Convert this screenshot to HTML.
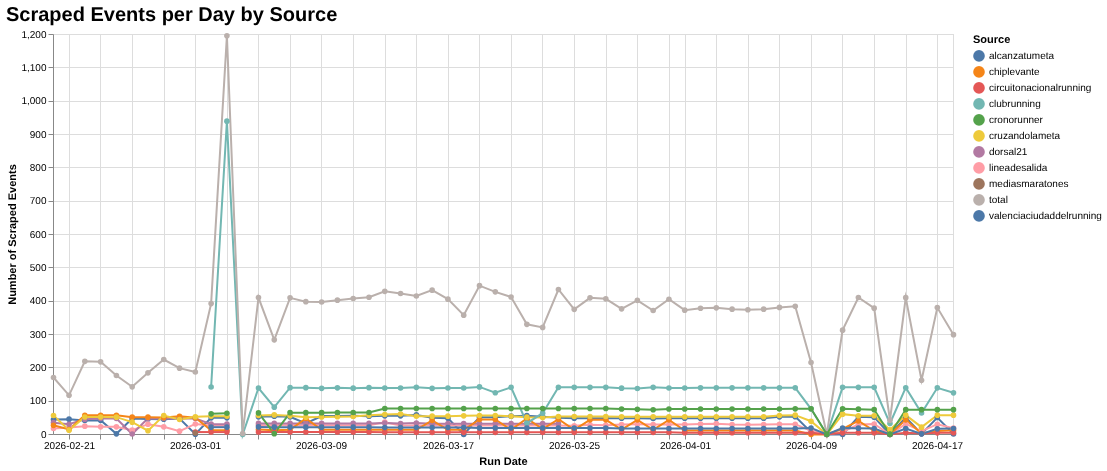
<!DOCTYPE html>
<html lang="en"><head><meta charset="utf-8"><title>Scraped Events per Day by Source</title>
<style>html,body{margin:0;padding:0;background:#fff}svg{display:block}</style></head>
<body>
<svg width="1107" height="471" viewBox="0 0 1107 471" style="display:block;background:#fff" text-rendering="geometricPrecision">
<rect width="1107" height="471" fill="#fff"/>
<path d="M69.5 34.5V434.5M100.5 34.5V434.5M132.5 34.5V434.5M164.5 34.5V434.5M195.5 34.5V434.5M227.5 34.5V434.5M258.5 34.5V434.5M290.5 34.5V434.5M321.5 34.5V434.5M353.5 34.5V434.5M385.5 34.5V434.5M416.5 34.5V434.5M448.5 34.5V434.5M479.5 34.5V434.5M511.5 34.5V434.5M542.5 34.5V434.5M574.5 34.5V434.5M606.5 34.5V434.5M637.5 34.5V434.5M669.5 34.5V434.5M685.5 34.5V434.5M716.5 34.5V434.5M748.5 34.5V434.5M779.5 34.5V434.5M811.5 34.5V434.5M842.5 34.5V434.5M874.5 34.5V434.5M906.5 34.5V434.5M937.5 34.5V434.5M53.5 434.5H953.5M53.5 401.5H953.5M53.5 367.5H953.5M53.5 334.5H953.5M53.5 301.5H953.5M53.5 267.5H953.5M53.5 234.5H953.5M53.5 201.5H953.5M53.5 167.5H953.5M53.5 134.5H953.5M53.5 101.5H953.5M53.5 67.5H953.5M53.5 34.5H953.5" stroke="#ddd" stroke-width="1" fill="none"/>
<rect x="53.5" y="34.5" width="900" height="400" fill="none" stroke="#ddd" stroke-width="1"/>
<path d="M69.5 434.5v5M100.5 434.5v5M132.5 434.5v5M164.5 434.5v5M195.5 434.5v5M227.5 434.5v5M258.5 434.5v5M290.5 434.5v5M321.5 434.5v5M353.5 434.5v5M385.5 434.5v5M416.5 434.5v5M448.5 434.5v5M479.5 434.5v5M511.5 434.5v5M542.5 434.5v5M574.5 434.5v5M606.5 434.5v5M637.5 434.5v5M669.5 434.5v5M685.5 434.5v5M716.5 434.5v5M748.5 434.5v5M779.5 434.5v5M811.5 434.5v5M842.5 434.5v5M874.5 434.5v5M906.5 434.5v5M937.5 434.5v5M53.5 434.5h-5M53.5 401.5h-5M53.5 367.5h-5M53.5 334.5h-5M53.5 301.5h-5M53.5 267.5h-5M53.5 234.5h-5M53.5 201.5h-5M53.5 167.5h-5M53.5 134.5h-5M53.5 101.5h-5M53.5 67.5h-5M53.5 34.5h-5" stroke="#888" stroke-width="1" fill="none"/>
<path d="M53.5 434.5H953.5M53.5 34.5V434.5" stroke="#888" stroke-width="1" fill="none"/>
<g font-family="'Liberation Sans', Arial, Helvetica, sans-serif" font-size="10" fill="#000">
<text x="69.5" y="449.4" text-anchor="middle">2026-02-21</text>
<text x="195.5" y="449.4" text-anchor="middle">2026-03-01</text>
<text x="321.5" y="449.4" text-anchor="middle">2026-03-09</text>
<text x="448.5" y="449.4" text-anchor="middle">2026-03-17</text>
<text x="574.5" y="449.4" text-anchor="middle">2026-03-25</text>
<text x="685.5" y="449.4" text-anchor="middle">2026-04-01</text>
<text x="811.5" y="449.4" text-anchor="middle">2026-04-09</text>
<text x="937.5" y="449.4" text-anchor="middle">2026-04-17</text>
<text x="46.5" y="437.5" text-anchor="end">0</text>
<text x="46.5" y="404.2" text-anchor="end">100</text>
<text x="46.5" y="370.8" text-anchor="end">200</text>
<text x="46.5" y="337.5" text-anchor="end">300</text>
<text x="46.5" y="304.2" text-anchor="end">400</text>
<text x="46.5" y="270.8" text-anchor="end">500</text>
<text x="46.5" y="237.5" text-anchor="end">600</text>
<text x="46.5" y="204.2" text-anchor="end">700</text>
<text x="46.5" y="170.8" text-anchor="end">800</text>
<text x="46.5" y="137.5" text-anchor="end">900</text>
<text x="46.5" y="104.2" text-anchor="end">1,000</text>
<text x="46.5" y="70.8" text-anchor="end">1,100</text>
<text x="46.5" y="37.5" text-anchor="end">1,200</text>
</g>
<g font-family="'Liberation Sans', Arial, Helvetica, sans-serif" font-size="11" font-weight="bold" fill="#000">
<text x="503.5" y="464.6" text-anchor="middle">Run Date</text>
<text transform="translate(16,234.5) rotate(-90)" text-anchor="middle">Number of Scraped Events</text>
<text x="973" y="42.7">Source</text>
</g>
<text x="6" y="20.7" font-family="'Liberation Sans', Arial, Helvetica, sans-serif" font-size="20" font-weight="bold" fill="#000">Scraped Events per Day by Source</text>
<path d="M53.50 419.50L69.04 419.17L84.82 420.50L100.61 420.33L116.40 433.83L132.19 418.50L147.97 418.97L163.76 419.17L179.55 418.50L195.33 434.17L211.12 417.83L226.91 417.83" stroke="#4c78a8" stroke-width="2" fill="none" stroke-miterlimit="10"/>
<path d="M258.48 416.83L274.27 416.17L290.06 416.83L305.84 423.50L321.63 416.00L337.42 416.00L353.20 415.83L368.99 416.17L384.78 415.83L400.56 415.83L416.35 414.90L432.14 417.83L447.93 418.17L463.71 434.50L479.50 417.17L495.29 417.17L511.07 416.17L526.86 415.67L542.65 416.83L558.43 417.83L574.22 418.17L590.01 418.17L605.80 418.17L621.58 418.17L637.37 418.17L653.16 418.50L668.94 418.17L684.73 418.17L700.52 418.17L716.30 418.17L732.09 418.17L747.88 418.17L763.67 418.17L779.45 416.83L795.24 416.63L811.03 432.17L826.81 434.50L842.60 434.50L858.39 416.83L874.17 417.17L889.96 434.50L905.75 417.57L921.54 433.83L937.32 417.57L953.50 434.00" stroke="#4c78a8" stroke-width="2" fill="none" stroke-miterlimit="10"/>
<path d="M53.50 428.50L69.04 427.50L84.82 426.17L100.61 426.83L116.40 426.83L132.19 430.17L147.97 424.17L163.76 426.83L179.55 431.17L195.33 423.93L211.12 425.50L226.91 425.50" stroke="#ff9da6" stroke-width="2" fill="none" stroke-miterlimit="10"/>
<path d="M258.48 425.30L274.27 425.30L290.06 425.30L305.84 425.30L321.63 425.30L337.42 425.30L353.20 425.30L368.99 425.30L384.78 422.17L400.56 425.50L416.35 425.50L432.14 425.50L447.93 425.50L463.71 425.50L479.50 425.50L495.29 425.50L511.07 425.50L526.86 425.50L542.65 425.50L558.43 425.50L574.22 425.83L590.01 424.83L605.80 425.17L621.58 424.50L637.37 424.33L653.16 424.50L668.94 424.50L684.73 424.50L700.52 423.93L716.30 423.67L732.09 424.50L747.88 424.83L763.67 424.50L779.45 424.20L795.24 424.20L811.03 430.83L826.81 434.50L842.60 431.83L858.39 424.50L874.17 423.93L889.96 434.50L905.75 423.93L921.54 431.17L937.32 424.20L953.50 428.17" stroke="#ff9da6" stroke-width="2" fill="none" stroke-miterlimit="10"/>
<path d="M53.50 422.67L69.04 424.30L84.82 419.17L100.61 418.50L116.40 418.50L132.19 434.00L147.97 418.17L163.76 418.50L179.55 418.17L195.33 418.50L211.12 424.17L226.91 424.17" stroke="#b279a2" stroke-width="2" fill="none" stroke-miterlimit="10"/>
<path d="M258.48 423.40L274.27 423.40L290.06 423.40L305.84 423.40L321.63 423.40L337.42 423.40L353.20 423.40L368.99 423.40L384.78 423.03L400.56 423.50L416.35 423.03L432.14 423.67L447.93 423.67L463.71 423.67L479.50 423.67L495.29 423.67L511.07 423.67L526.86 423.67L542.65 423.67L558.43 423.67" stroke="#b279a2" stroke-width="2" fill="none" stroke-miterlimit="10"/>
<path d="M53.50 425.33L69.04 429.50L84.82 415.33L100.61 415.33L116.40 415.33L132.19 417.17L147.97 417.17L163.76 417.60L179.55 416.27L195.33 417.83L211.12 430.27L226.91 430.27" stroke="#f58518" stroke-width="2" fill="none" stroke-miterlimit="10"/>
<path d="M258.48 429.50L274.27 430.27L290.06 429.83L305.84 418.50L321.63 429.83L337.42 429.83L353.20 429.83L368.99 429.83L384.78 429.83L400.56 429.83L416.35 429.83L432.14 420.33L447.93 429.83L463.71 429.83L479.50 419.50L495.29 419.50L511.07 429.83L526.86 418.50L542.65 429.17L558.43 419.17L574.22 429.83L590.01 419.83L605.80 419.83L621.58 429.50L637.37 419.83L653.16 429.83L668.94 419.83L684.73 430.50L700.52 430.50L716.30 430.50L732.09 430.50L747.88 430.50L763.67 430.50L779.45 430.50L795.24 430.50L811.03 434.50L826.81 434.50L842.60 428.83L858.39 420.83L874.17 430.83L889.96 434.50L905.75 419.83L921.54 433.50L937.32 430.97L953.50 430.33" stroke="#f58518" stroke-width="2" fill="none" stroke-miterlimit="10"/>
<path d="M53.50 415.50L69.04 430.17L84.82 416.97L100.61 416.97L116.40 417.17L132.19 422.17L147.97 430.70L163.76 415.50L179.55 419.50L195.33 416.70L211.12 416.27L226.91 416.27" stroke="#eeca3b" stroke-width="2" fill="none" stroke-miterlimit="10"/>
<path d="M258.48 415.50L274.27 414.90L290.06 415.83L305.84 417.17L321.63 416.97L337.42 416.70L353.20 416.50L368.99 415.33L384.78 414.50L400.56 414.00L416.35 416.27L432.14 416.17L447.93 416.17L463.71 415.83L479.50 415.50L495.29 415.50L511.07 416.27L526.86 417.17L542.65 417.60L558.43 416.50L574.22 416.50L590.01 416.50L605.80 416.50L621.58 416.70L637.37 416.70L653.16 416.70L668.94 416.70L684.73 416.70L700.52 416.70L716.30 416.70L732.09 416.70L747.88 416.70L763.67 416.70L779.45 415.50L795.24 415.17L811.03 421.23L826.81 434.50L842.60 414.17L858.39 415.73L874.17 415.73L889.96 429.83L905.75 415.17L921.54 427.17L937.32 415.17L953.50 415.17" stroke="#eeca3b" stroke-width="2" fill="none" stroke-miterlimit="10"/>
<path d="M195.33 432.07L211.12 432.07L226.91 432.07" stroke="#e45756" stroke-width="2" fill="none" stroke-miterlimit="10"/>
<path d="M258.48 432.07L274.27 432.07L290.06 432.07L305.84 432.07L321.63 432.07L337.42 432.07L353.20 432.07L368.99 432.07L384.78 432.33L400.56 432.33L416.35 432.33L432.14 432.33L447.93 432.33L463.71 432.33L479.50 432.33L495.29 432.33L511.07 432.33L526.86 432.33L542.65 432.33L558.43 432.33L574.22 432.33L590.01 432.33L605.80 432.33L621.58 432.33L637.37 432.33L653.16 432.33L668.94 432.33L684.73 432.67L700.52 432.67L716.30 432.67L732.09 432.67L747.88 432.67L763.67 432.67L779.45 432.67L795.24 432.67L811.03 432.83L826.81 434.50L842.60 432.83L858.39 432.63L874.17 432.63L889.96 434.50L905.75 432.63L921.54 433.50L937.32 432.83L953.50 432.63" stroke="#e45756" stroke-width="2" fill="none" stroke-miterlimit="10"/>
<path d="M211.12 387.00L226.91 121.17L242.69 434.50L258.48 388.00L274.27 407.17L290.06 387.67L305.84 387.67L321.63 388.33L337.42 387.83L353.20 388.17L368.99 387.67L384.78 388.00L400.56 388.00L416.35 387.33L432.14 388.33L447.93 388.00L463.71 388.00L479.50 386.90L495.29 392.70L511.07 387.33L526.86 423.17L542.65 413.17L558.43 387.33L574.22 387.33L590.01 387.33L605.80 387.33L621.58 388.17L637.37 388.50L653.16 387.33L668.94 388.00L684.73 388.00L700.52 387.83L716.30 387.83L732.09 387.83L747.88 387.83L763.67 387.83L779.45 387.83L795.24 387.83L811.03 408.83L826.81 434.50L842.60 387.33L858.39 387.33L874.17 387.33L889.96 423.50L905.75 387.70L921.54 413.00L937.32 387.83L953.50 392.83" stroke="#72b7b2" stroke-width="2" fill="none" stroke-miterlimit="10"/>
<path d="M53.50 377.50L69.04 395.30L84.82 361.33L100.61 361.83L116.40 375.50L132.19 386.83L147.97 372.83L163.76 359.50L179.55 368.17L195.33 372.00L211.12 303.60L226.91 35.83L242.69 433.50L258.48 297.60L274.27 339.83L290.06 297.83L305.84 301.63L321.63 302.00L337.42 300.17L353.20 298.50L368.99 297.30L384.78 291.33L400.56 293.50L416.35 296.00L432.14 290.17L447.93 299.17L463.71 315.17L479.50 285.67L495.29 291.83L511.07 297.03L526.86 324.33L542.65 327.40L558.43 289.50L574.22 309.33L590.01 297.83L605.80 298.83L621.58 308.83L637.37 300.33L653.16 310.50L668.94 299.27L684.73 310.17L700.52 308.30L716.30 307.83L732.09 309.17L747.88 309.73L763.67 309.17L779.45 307.40L795.24 306.33L811.03 362.50L826.81 434.50L842.60 330.17L858.39 297.50L874.17 308.17L889.96 420.17L905.75 297.63L921.54 380.30L937.32 307.60L953.50 334.67" stroke="#bab0ac" stroke-width="2" fill="none" stroke-miterlimit="10"/>
<path d="M211.12 427.17L226.91 427.17" stroke="#4c78a8" stroke-width="2" fill="none" stroke-miterlimit="10"/>
<path d="M258.48 426.90L274.27 427.17L290.06 427.17L305.84 427.17L321.63 427.17L337.42 427.17L353.20 427.17L368.99 427.17L384.78 427.50L400.56 427.50L416.35 427.50L432.14 427.50L447.93 427.50L463.71 427.50L479.50 428.00L495.29 428.00L511.07 428.00L526.86 428.00L542.65 428.00L558.43 428.00L574.22 428.00L590.01 428.00L605.80 428.00L621.58 428.50L637.37 428.50L653.16 428.50L668.94 428.50L684.73 428.50L700.52 428.50L716.30 428.50L732.09 428.50L747.88 428.50L763.67 428.50L779.45 428.50L795.24 428.50L811.03 428.07L826.81 434.50L842.60 428.07L858.39 428.17L874.17 428.50L889.96 434.50L905.75 428.50L921.54 433.83L937.32 428.83L953.50 428.50" stroke="#4c78a8" stroke-width="2" fill="none" stroke-miterlimit="10"/>
<path d="M211.12 413.83L226.91 413.27" stroke="#54a24b" stroke-width="2" fill="none" stroke-miterlimit="10"/>
<path d="M258.48 412.90L274.27 433.67L290.06 412.63L305.84 412.63L321.63 412.63L337.42 412.50L353.20 412.50L368.99 412.50L384.78 408.57L400.56 408.57L416.35 408.57L432.14 408.57L447.93 408.57L463.71 408.57L479.50 408.57L495.29 408.57L511.07 408.57L526.86 408.57L542.65 408.57L558.43 408.57L574.22 408.57L590.01 408.57L605.80 408.57L621.58 409.03L637.37 409.30L653.16 409.73L668.94 409.03L684.73 409.03L700.52 409.03L716.30 409.03L732.09 409.03L747.88 409.03L763.67 409.03L779.45 409.00L795.24 408.83L811.03 408.70L826.81 434.17L842.60 408.83L858.39 409.17L874.17 409.67L889.96 434.17L905.75 409.67L921.54 409.67L937.32 409.67L953.50 409.67" stroke="#54a24b" stroke-width="2" fill="none" stroke-miterlimit="10"/>
<circle cx="53.50" cy="419.50" r="2.8" fill="#4c78a8"/>
<circle cx="53.50" cy="428.50" r="2.8" fill="#ff9da6"/>
<circle cx="53.50" cy="422.67" r="2.8" fill="#b279a2"/>
<circle cx="53.50" cy="425.33" r="2.8" fill="#f58518"/>
<circle cx="53.50" cy="415.50" r="2.8" fill="#eeca3b"/>
<circle cx="53.50" cy="377.50" r="2.8" fill="#bab0ac"/>
<circle cx="69.04" cy="419.17" r="2.8" fill="#4c78a8"/>
<circle cx="69.04" cy="427.50" r="2.8" fill="#ff9da6"/>
<circle cx="69.04" cy="424.30" r="2.8" fill="#b279a2"/>
<circle cx="69.04" cy="429.50" r="2.8" fill="#f58518"/>
<circle cx="69.04" cy="430.17" r="2.8" fill="#eeca3b"/>
<circle cx="69.04" cy="395.30" r="2.8" fill="#bab0ac"/>
<circle cx="84.82" cy="420.50" r="2.8" fill="#4c78a8"/>
<circle cx="84.82" cy="426.17" r="2.8" fill="#ff9da6"/>
<circle cx="84.82" cy="419.17" r="2.8" fill="#b279a2"/>
<circle cx="84.82" cy="415.33" r="2.8" fill="#f58518"/>
<circle cx="84.82" cy="416.97" r="2.8" fill="#eeca3b"/>
<circle cx="84.82" cy="361.33" r="2.8" fill="#bab0ac"/>
<circle cx="100.61" cy="420.33" r="2.8" fill="#4c78a8"/>
<circle cx="100.61" cy="426.83" r="2.8" fill="#ff9da6"/>
<circle cx="100.61" cy="418.50" r="2.8" fill="#b279a2"/>
<circle cx="100.61" cy="415.33" r="2.8" fill="#f58518"/>
<circle cx="100.61" cy="416.97" r="2.8" fill="#eeca3b"/>
<circle cx="100.61" cy="361.83" r="2.8" fill="#bab0ac"/>
<circle cx="116.40" cy="433.83" r="2.8" fill="#4c78a8"/>
<circle cx="116.40" cy="426.83" r="2.8" fill="#ff9da6"/>
<circle cx="116.40" cy="418.50" r="2.8" fill="#b279a2"/>
<circle cx="116.40" cy="415.33" r="2.8" fill="#f58518"/>
<circle cx="116.40" cy="417.17" r="2.8" fill="#eeca3b"/>
<circle cx="116.40" cy="375.50" r="2.8" fill="#bab0ac"/>
<circle cx="132.19" cy="418.50" r="2.8" fill="#4c78a8"/>
<circle cx="132.19" cy="430.17" r="2.8" fill="#ff9da6"/>
<circle cx="132.19" cy="434.00" r="2.8" fill="#b279a2"/>
<circle cx="132.19" cy="417.17" r="2.8" fill="#f58518"/>
<circle cx="132.19" cy="422.17" r="2.8" fill="#eeca3b"/>
<circle cx="132.19" cy="386.83" r="2.8" fill="#bab0ac"/>
<circle cx="147.97" cy="418.97" r="2.8" fill="#4c78a8"/>
<circle cx="147.97" cy="424.17" r="2.8" fill="#ff9da6"/>
<circle cx="147.97" cy="418.17" r="2.8" fill="#b279a2"/>
<circle cx="147.97" cy="417.17" r="2.8" fill="#f58518"/>
<circle cx="147.97" cy="430.70" r="2.8" fill="#eeca3b"/>
<circle cx="147.97" cy="372.83" r="2.8" fill="#bab0ac"/>
<circle cx="163.76" cy="419.17" r="2.8" fill="#4c78a8"/>
<circle cx="163.76" cy="426.83" r="2.8" fill="#ff9da6"/>
<circle cx="163.76" cy="418.50" r="2.8" fill="#b279a2"/>
<circle cx="163.76" cy="417.60" r="2.8" fill="#f58518"/>
<circle cx="163.76" cy="415.50" r="2.8" fill="#eeca3b"/>
<circle cx="163.76" cy="359.50" r="2.8" fill="#bab0ac"/>
<circle cx="179.55" cy="418.50" r="2.8" fill="#4c78a8"/>
<circle cx="179.55" cy="431.17" r="2.8" fill="#ff9da6"/>
<circle cx="179.55" cy="418.17" r="2.8" fill="#b279a2"/>
<circle cx="179.55" cy="416.27" r="2.8" fill="#f58518"/>
<circle cx="179.55" cy="419.50" r="2.8" fill="#eeca3b"/>
<circle cx="179.55" cy="368.17" r="2.8" fill="#bab0ac"/>
<circle cx="195.33" cy="434.17" r="2.8" fill="#4c78a8"/>
<circle cx="195.33" cy="423.93" r="2.8" fill="#ff9da6"/>
<circle cx="195.33" cy="418.50" r="2.8" fill="#b279a2"/>
<circle cx="195.33" cy="417.83" r="2.8" fill="#f58518"/>
<circle cx="195.33" cy="416.70" r="2.8" fill="#eeca3b"/>
<circle cx="195.33" cy="432.07" r="2.8" fill="#e45756"/>
<circle cx="195.33" cy="432.97" r="2.8" fill="#9d755d"/>
<circle cx="195.33" cy="372.00" r="2.8" fill="#bab0ac"/>
<circle cx="211.12" cy="417.83" r="2.8" fill="#4c78a8"/>
<circle cx="211.12" cy="425.50" r="2.8" fill="#ff9da6"/>
<circle cx="211.12" cy="424.17" r="2.8" fill="#b279a2"/>
<circle cx="211.12" cy="430.27" r="2.8" fill="#f58518"/>
<circle cx="211.12" cy="416.27" r="2.8" fill="#eeca3b"/>
<circle cx="211.12" cy="432.07" r="2.8" fill="#e45756"/>
<circle cx="211.12" cy="387.00" r="2.8" fill="#72b7b2"/>
<circle cx="211.12" cy="303.60" r="2.8" fill="#bab0ac"/>
<circle cx="211.12" cy="427.17" r="2.8" fill="#4c78a8"/>
<circle cx="211.12" cy="413.83" r="2.8" fill="#54a24b"/>
<circle cx="226.91" cy="417.83" r="2.8" fill="#4c78a8"/>
<circle cx="226.91" cy="425.50" r="2.8" fill="#ff9da6"/>
<circle cx="226.91" cy="424.17" r="2.8" fill="#b279a2"/>
<circle cx="226.91" cy="430.27" r="2.8" fill="#f58518"/>
<circle cx="226.91" cy="416.27" r="2.8" fill="#eeca3b"/>
<circle cx="226.91" cy="432.07" r="2.8" fill="#e45756"/>
<circle cx="226.91" cy="121.17" r="2.8" fill="#72b7b2"/>
<circle cx="226.91" cy="35.83" r="2.8" fill="#bab0ac"/>
<circle cx="226.91" cy="427.17" r="2.8" fill="#4c78a8"/>
<circle cx="226.91" cy="413.27" r="2.8" fill="#54a24b"/>
<circle cx="242.69" cy="434.50" r="2.8" fill="#72b7b2"/>
<circle cx="242.69" cy="433.50" r="2.8" fill="#bab0ac"/>
<circle cx="258.48" cy="416.83" r="2.8" fill="#4c78a8"/>
<circle cx="258.48" cy="425.30" r="2.8" fill="#ff9da6"/>
<circle cx="258.48" cy="423.40" r="2.8" fill="#b279a2"/>
<circle cx="258.48" cy="429.50" r="2.8" fill="#f58518"/>
<circle cx="258.48" cy="415.50" r="2.8" fill="#eeca3b"/>
<circle cx="258.48" cy="432.07" r="2.8" fill="#e45756"/>
<circle cx="258.48" cy="388.00" r="2.8" fill="#72b7b2"/>
<circle cx="258.48" cy="297.60" r="2.8" fill="#bab0ac"/>
<circle cx="258.48" cy="426.90" r="2.8" fill="#4c78a8"/>
<circle cx="258.48" cy="412.90" r="2.8" fill="#54a24b"/>
<circle cx="274.27" cy="416.17" r="2.8" fill="#4c78a8"/>
<circle cx="274.27" cy="425.30" r="2.8" fill="#ff9da6"/>
<circle cx="274.27" cy="423.40" r="2.8" fill="#b279a2"/>
<circle cx="274.27" cy="430.27" r="2.8" fill="#f58518"/>
<circle cx="274.27" cy="414.90" r="2.8" fill="#eeca3b"/>
<circle cx="274.27" cy="432.07" r="2.8" fill="#e45756"/>
<circle cx="274.27" cy="407.17" r="2.8" fill="#72b7b2"/>
<circle cx="274.27" cy="339.83" r="2.8" fill="#bab0ac"/>
<circle cx="274.27" cy="427.17" r="2.8" fill="#4c78a8"/>
<circle cx="274.27" cy="433.67" r="2.8" fill="#54a24b"/>
<circle cx="290.06" cy="416.83" r="2.8" fill="#4c78a8"/>
<circle cx="290.06" cy="425.30" r="2.8" fill="#ff9da6"/>
<circle cx="290.06" cy="423.40" r="2.8" fill="#b279a2"/>
<circle cx="290.06" cy="429.83" r="2.8" fill="#f58518"/>
<circle cx="290.06" cy="415.83" r="2.8" fill="#eeca3b"/>
<circle cx="290.06" cy="432.07" r="2.8" fill="#e45756"/>
<circle cx="290.06" cy="387.67" r="2.8" fill="#72b7b2"/>
<circle cx="290.06" cy="297.83" r="2.8" fill="#bab0ac"/>
<circle cx="290.06" cy="427.17" r="2.8" fill="#4c78a8"/>
<circle cx="290.06" cy="412.63" r="2.8" fill="#54a24b"/>
<circle cx="305.84" cy="423.50" r="2.8" fill="#4c78a8"/>
<circle cx="305.84" cy="425.30" r="2.8" fill="#ff9da6"/>
<circle cx="305.84" cy="423.40" r="2.8" fill="#b279a2"/>
<circle cx="305.84" cy="418.50" r="2.8" fill="#f58518"/>
<circle cx="305.84" cy="417.17" r="2.8" fill="#eeca3b"/>
<circle cx="305.84" cy="432.07" r="2.8" fill="#e45756"/>
<circle cx="305.84" cy="387.67" r="2.8" fill="#72b7b2"/>
<circle cx="305.84" cy="301.63" r="2.8" fill="#bab0ac"/>
<circle cx="305.84" cy="427.17" r="2.8" fill="#4c78a8"/>
<circle cx="305.84" cy="412.63" r="2.8" fill="#54a24b"/>
<circle cx="321.63" cy="416.00" r="2.8" fill="#4c78a8"/>
<circle cx="321.63" cy="425.30" r="2.8" fill="#ff9da6"/>
<circle cx="321.63" cy="423.40" r="2.8" fill="#b279a2"/>
<circle cx="321.63" cy="429.83" r="2.8" fill="#f58518"/>
<circle cx="321.63" cy="416.97" r="2.8" fill="#eeca3b"/>
<circle cx="321.63" cy="432.07" r="2.8" fill="#e45756"/>
<circle cx="321.63" cy="388.33" r="2.8" fill="#72b7b2"/>
<circle cx="321.63" cy="302.00" r="2.8" fill="#bab0ac"/>
<circle cx="321.63" cy="427.17" r="2.8" fill="#4c78a8"/>
<circle cx="321.63" cy="412.63" r="2.8" fill="#54a24b"/>
<circle cx="337.42" cy="416.00" r="2.8" fill="#4c78a8"/>
<circle cx="337.42" cy="425.30" r="2.8" fill="#ff9da6"/>
<circle cx="337.42" cy="423.40" r="2.8" fill="#b279a2"/>
<circle cx="337.42" cy="429.83" r="2.8" fill="#f58518"/>
<circle cx="337.42" cy="416.70" r="2.8" fill="#eeca3b"/>
<circle cx="337.42" cy="432.07" r="2.8" fill="#e45756"/>
<circle cx="337.42" cy="387.83" r="2.8" fill="#72b7b2"/>
<circle cx="337.42" cy="300.17" r="2.8" fill="#bab0ac"/>
<circle cx="337.42" cy="427.17" r="2.8" fill="#4c78a8"/>
<circle cx="337.42" cy="412.50" r="2.8" fill="#54a24b"/>
<circle cx="353.20" cy="415.83" r="2.8" fill="#4c78a8"/>
<circle cx="353.20" cy="425.30" r="2.8" fill="#ff9da6"/>
<circle cx="353.20" cy="423.40" r="2.8" fill="#b279a2"/>
<circle cx="353.20" cy="429.83" r="2.8" fill="#f58518"/>
<circle cx="353.20" cy="416.50" r="2.8" fill="#eeca3b"/>
<circle cx="353.20" cy="432.07" r="2.8" fill="#e45756"/>
<circle cx="353.20" cy="388.17" r="2.8" fill="#72b7b2"/>
<circle cx="353.20" cy="298.50" r="2.8" fill="#bab0ac"/>
<circle cx="353.20" cy="427.17" r="2.8" fill="#4c78a8"/>
<circle cx="353.20" cy="412.50" r="2.8" fill="#54a24b"/>
<circle cx="368.99" cy="416.17" r="2.8" fill="#4c78a8"/>
<circle cx="368.99" cy="425.30" r="2.8" fill="#ff9da6"/>
<circle cx="368.99" cy="423.40" r="2.8" fill="#b279a2"/>
<circle cx="368.99" cy="429.83" r="2.8" fill="#f58518"/>
<circle cx="368.99" cy="415.33" r="2.8" fill="#eeca3b"/>
<circle cx="368.99" cy="432.07" r="2.8" fill="#e45756"/>
<circle cx="368.99" cy="387.67" r="2.8" fill="#72b7b2"/>
<circle cx="368.99" cy="297.30" r="2.8" fill="#bab0ac"/>
<circle cx="368.99" cy="427.17" r="2.8" fill="#4c78a8"/>
<circle cx="368.99" cy="412.50" r="2.8" fill="#54a24b"/>
<circle cx="384.78" cy="415.83" r="2.8" fill="#4c78a8"/>
<circle cx="384.78" cy="422.17" r="2.8" fill="#ff9da6"/>
<circle cx="384.78" cy="423.03" r="2.8" fill="#b279a2"/>
<circle cx="384.78" cy="429.83" r="2.8" fill="#f58518"/>
<circle cx="384.78" cy="414.50" r="2.8" fill="#eeca3b"/>
<circle cx="384.78" cy="432.33" r="2.8" fill="#e45756"/>
<circle cx="384.78" cy="388.00" r="2.8" fill="#72b7b2"/>
<circle cx="384.78" cy="291.33" r="2.8" fill="#bab0ac"/>
<circle cx="384.78" cy="427.50" r="2.8" fill="#4c78a8"/>
<circle cx="384.78" cy="408.57" r="2.8" fill="#54a24b"/>
<circle cx="400.56" cy="415.83" r="2.8" fill="#4c78a8"/>
<circle cx="400.56" cy="425.50" r="2.8" fill="#ff9da6"/>
<circle cx="400.56" cy="423.50" r="2.8" fill="#b279a2"/>
<circle cx="400.56" cy="429.83" r="2.8" fill="#f58518"/>
<circle cx="400.56" cy="414.00" r="2.8" fill="#eeca3b"/>
<circle cx="400.56" cy="432.33" r="2.8" fill="#e45756"/>
<circle cx="400.56" cy="388.00" r="2.8" fill="#72b7b2"/>
<circle cx="400.56" cy="293.50" r="2.8" fill="#bab0ac"/>
<circle cx="400.56" cy="427.50" r="2.8" fill="#4c78a8"/>
<circle cx="400.56" cy="408.57" r="2.8" fill="#54a24b"/>
<circle cx="416.35" cy="414.90" r="2.8" fill="#4c78a8"/>
<circle cx="416.35" cy="425.50" r="2.8" fill="#ff9da6"/>
<circle cx="416.35" cy="423.03" r="2.8" fill="#b279a2"/>
<circle cx="416.35" cy="429.83" r="2.8" fill="#f58518"/>
<circle cx="416.35" cy="416.27" r="2.8" fill="#eeca3b"/>
<circle cx="416.35" cy="432.33" r="2.8" fill="#e45756"/>
<circle cx="416.35" cy="387.33" r="2.8" fill="#72b7b2"/>
<circle cx="416.35" cy="296.00" r="2.8" fill="#bab0ac"/>
<circle cx="416.35" cy="427.50" r="2.8" fill="#4c78a8"/>
<circle cx="416.35" cy="408.57" r="2.8" fill="#54a24b"/>
<circle cx="432.14" cy="417.83" r="2.8" fill="#4c78a8"/>
<circle cx="432.14" cy="425.50" r="2.8" fill="#ff9da6"/>
<circle cx="432.14" cy="423.67" r="2.8" fill="#b279a2"/>
<circle cx="432.14" cy="420.33" r="2.8" fill="#f58518"/>
<circle cx="432.14" cy="416.17" r="2.8" fill="#eeca3b"/>
<circle cx="432.14" cy="432.33" r="2.8" fill="#e45756"/>
<circle cx="432.14" cy="388.33" r="2.8" fill="#72b7b2"/>
<circle cx="432.14" cy="290.17" r="2.8" fill="#bab0ac"/>
<circle cx="432.14" cy="427.50" r="2.8" fill="#4c78a8"/>
<circle cx="432.14" cy="408.57" r="2.8" fill="#54a24b"/>
<circle cx="447.93" cy="418.17" r="2.8" fill="#4c78a8"/>
<circle cx="447.93" cy="425.50" r="2.8" fill="#ff9da6"/>
<circle cx="447.93" cy="423.67" r="2.8" fill="#b279a2"/>
<circle cx="447.93" cy="429.83" r="2.8" fill="#f58518"/>
<circle cx="447.93" cy="416.17" r="2.8" fill="#eeca3b"/>
<circle cx="447.93" cy="432.33" r="2.8" fill="#e45756"/>
<circle cx="447.93" cy="388.00" r="2.8" fill="#72b7b2"/>
<circle cx="447.93" cy="299.17" r="2.8" fill="#bab0ac"/>
<circle cx="447.93" cy="427.50" r="2.8" fill="#4c78a8"/>
<circle cx="447.93" cy="408.57" r="2.8" fill="#54a24b"/>
<circle cx="463.71" cy="434.50" r="2.8" fill="#4c78a8"/>
<circle cx="463.71" cy="425.50" r="2.8" fill="#ff9da6"/>
<circle cx="463.71" cy="423.67" r="2.8" fill="#b279a2"/>
<circle cx="463.71" cy="429.83" r="2.8" fill="#f58518"/>
<circle cx="463.71" cy="415.83" r="2.8" fill="#eeca3b"/>
<circle cx="463.71" cy="432.33" r="2.8" fill="#e45756"/>
<circle cx="463.71" cy="388.00" r="2.8" fill="#72b7b2"/>
<circle cx="463.71" cy="315.17" r="2.8" fill="#bab0ac"/>
<circle cx="463.71" cy="427.50" r="2.8" fill="#4c78a8"/>
<circle cx="463.71" cy="408.57" r="2.8" fill="#54a24b"/>
<circle cx="479.50" cy="417.17" r="2.8" fill="#4c78a8"/>
<circle cx="479.50" cy="425.50" r="2.8" fill="#ff9da6"/>
<circle cx="479.50" cy="423.67" r="2.8" fill="#b279a2"/>
<circle cx="479.50" cy="419.50" r="2.8" fill="#f58518"/>
<circle cx="479.50" cy="415.50" r="2.8" fill="#eeca3b"/>
<circle cx="479.50" cy="432.33" r="2.8" fill="#e45756"/>
<circle cx="479.50" cy="386.90" r="2.8" fill="#72b7b2"/>
<circle cx="479.50" cy="285.67" r="2.8" fill="#bab0ac"/>
<circle cx="479.50" cy="428.00" r="2.8" fill="#4c78a8"/>
<circle cx="479.50" cy="408.57" r="2.8" fill="#54a24b"/>
<circle cx="495.29" cy="417.17" r="2.8" fill="#4c78a8"/>
<circle cx="495.29" cy="425.50" r="2.8" fill="#ff9da6"/>
<circle cx="495.29" cy="423.67" r="2.8" fill="#b279a2"/>
<circle cx="495.29" cy="419.50" r="2.8" fill="#f58518"/>
<circle cx="495.29" cy="415.50" r="2.8" fill="#eeca3b"/>
<circle cx="495.29" cy="432.33" r="2.8" fill="#e45756"/>
<circle cx="495.29" cy="392.70" r="2.8" fill="#72b7b2"/>
<circle cx="495.29" cy="291.83" r="2.8" fill="#bab0ac"/>
<circle cx="495.29" cy="428.00" r="2.8" fill="#4c78a8"/>
<circle cx="495.29" cy="408.57" r="2.8" fill="#54a24b"/>
<circle cx="511.07" cy="416.17" r="2.8" fill="#4c78a8"/>
<circle cx="511.07" cy="425.50" r="2.8" fill="#ff9da6"/>
<circle cx="511.07" cy="423.67" r="2.8" fill="#b279a2"/>
<circle cx="511.07" cy="429.83" r="2.8" fill="#f58518"/>
<circle cx="511.07" cy="416.27" r="2.8" fill="#eeca3b"/>
<circle cx="511.07" cy="432.33" r="2.8" fill="#e45756"/>
<circle cx="511.07" cy="387.33" r="2.8" fill="#72b7b2"/>
<circle cx="511.07" cy="297.03" r="2.8" fill="#bab0ac"/>
<circle cx="511.07" cy="428.00" r="2.8" fill="#4c78a8"/>
<circle cx="511.07" cy="408.57" r="2.8" fill="#54a24b"/>
<circle cx="526.86" cy="415.67" r="2.8" fill="#4c78a8"/>
<circle cx="526.86" cy="425.50" r="2.8" fill="#ff9da6"/>
<circle cx="526.86" cy="423.67" r="2.8" fill="#b279a2"/>
<circle cx="526.86" cy="418.50" r="2.8" fill="#f58518"/>
<circle cx="526.86" cy="417.17" r="2.8" fill="#eeca3b"/>
<circle cx="526.86" cy="432.33" r="2.8" fill="#e45756"/>
<circle cx="526.86" cy="423.17" r="2.8" fill="#72b7b2"/>
<circle cx="526.86" cy="324.33" r="2.8" fill="#bab0ac"/>
<circle cx="526.86" cy="428.00" r="2.8" fill="#4c78a8"/>
<circle cx="526.86" cy="408.57" r="2.8" fill="#54a24b"/>
<circle cx="542.65" cy="416.83" r="2.8" fill="#4c78a8"/>
<circle cx="542.65" cy="425.50" r="2.8" fill="#ff9da6"/>
<circle cx="542.65" cy="423.67" r="2.8" fill="#b279a2"/>
<circle cx="542.65" cy="429.17" r="2.8" fill="#f58518"/>
<circle cx="542.65" cy="417.60" r="2.8" fill="#eeca3b"/>
<circle cx="542.65" cy="432.33" r="2.8" fill="#e45756"/>
<circle cx="542.65" cy="413.17" r="2.8" fill="#72b7b2"/>
<circle cx="542.65" cy="327.40" r="2.8" fill="#bab0ac"/>
<circle cx="542.65" cy="428.00" r="2.8" fill="#4c78a8"/>
<circle cx="542.65" cy="408.57" r="2.8" fill="#54a24b"/>
<circle cx="558.43" cy="417.83" r="2.8" fill="#4c78a8"/>
<circle cx="558.43" cy="425.50" r="2.8" fill="#ff9da6"/>
<circle cx="558.43" cy="423.67" r="2.8" fill="#b279a2"/>
<circle cx="558.43" cy="419.17" r="2.8" fill="#f58518"/>
<circle cx="558.43" cy="416.50" r="2.8" fill="#eeca3b"/>
<circle cx="558.43" cy="432.33" r="2.8" fill="#e45756"/>
<circle cx="558.43" cy="387.33" r="2.8" fill="#72b7b2"/>
<circle cx="558.43" cy="289.50" r="2.8" fill="#bab0ac"/>
<circle cx="558.43" cy="428.00" r="2.8" fill="#4c78a8"/>
<circle cx="558.43" cy="408.57" r="2.8" fill="#54a24b"/>
<circle cx="574.22" cy="418.17" r="2.8" fill="#4c78a8"/>
<circle cx="574.22" cy="425.83" r="2.8" fill="#ff9da6"/>
<circle cx="574.22" cy="429.83" r="2.8" fill="#f58518"/>
<circle cx="574.22" cy="416.50" r="2.8" fill="#eeca3b"/>
<circle cx="574.22" cy="432.33" r="2.8" fill="#e45756"/>
<circle cx="574.22" cy="387.33" r="2.8" fill="#72b7b2"/>
<circle cx="574.22" cy="309.33" r="2.8" fill="#bab0ac"/>
<circle cx="574.22" cy="428.00" r="2.8" fill="#4c78a8"/>
<circle cx="574.22" cy="408.57" r="2.8" fill="#54a24b"/>
<circle cx="590.01" cy="418.17" r="2.8" fill="#4c78a8"/>
<circle cx="590.01" cy="424.83" r="2.8" fill="#ff9da6"/>
<circle cx="590.01" cy="419.83" r="2.8" fill="#f58518"/>
<circle cx="590.01" cy="416.50" r="2.8" fill="#eeca3b"/>
<circle cx="590.01" cy="432.33" r="2.8" fill="#e45756"/>
<circle cx="590.01" cy="387.33" r="2.8" fill="#72b7b2"/>
<circle cx="590.01" cy="297.83" r="2.8" fill="#bab0ac"/>
<circle cx="590.01" cy="428.00" r="2.8" fill="#4c78a8"/>
<circle cx="590.01" cy="408.57" r="2.8" fill="#54a24b"/>
<circle cx="605.80" cy="418.17" r="2.8" fill="#4c78a8"/>
<circle cx="605.80" cy="425.17" r="2.8" fill="#ff9da6"/>
<circle cx="605.80" cy="419.83" r="2.8" fill="#f58518"/>
<circle cx="605.80" cy="416.50" r="2.8" fill="#eeca3b"/>
<circle cx="605.80" cy="432.33" r="2.8" fill="#e45756"/>
<circle cx="605.80" cy="387.33" r="2.8" fill="#72b7b2"/>
<circle cx="605.80" cy="298.83" r="2.8" fill="#bab0ac"/>
<circle cx="605.80" cy="428.00" r="2.8" fill="#4c78a8"/>
<circle cx="605.80" cy="408.57" r="2.8" fill="#54a24b"/>
<circle cx="621.58" cy="418.17" r="2.8" fill="#4c78a8"/>
<circle cx="621.58" cy="424.50" r="2.8" fill="#ff9da6"/>
<circle cx="621.58" cy="429.50" r="2.8" fill="#f58518"/>
<circle cx="621.58" cy="416.70" r="2.8" fill="#eeca3b"/>
<circle cx="621.58" cy="432.33" r="2.8" fill="#e45756"/>
<circle cx="621.58" cy="388.17" r="2.8" fill="#72b7b2"/>
<circle cx="621.58" cy="308.83" r="2.8" fill="#bab0ac"/>
<circle cx="621.58" cy="428.50" r="2.8" fill="#4c78a8"/>
<circle cx="621.58" cy="409.03" r="2.8" fill="#54a24b"/>
<circle cx="637.37" cy="418.17" r="2.8" fill="#4c78a8"/>
<circle cx="637.37" cy="424.33" r="2.8" fill="#ff9da6"/>
<circle cx="637.37" cy="419.83" r="2.8" fill="#f58518"/>
<circle cx="637.37" cy="416.70" r="2.8" fill="#eeca3b"/>
<circle cx="637.37" cy="432.33" r="2.8" fill="#e45756"/>
<circle cx="637.37" cy="388.50" r="2.8" fill="#72b7b2"/>
<circle cx="637.37" cy="300.33" r="2.8" fill="#bab0ac"/>
<circle cx="637.37" cy="428.50" r="2.8" fill="#4c78a8"/>
<circle cx="637.37" cy="409.30" r="2.8" fill="#54a24b"/>
<circle cx="653.16" cy="418.50" r="2.8" fill="#4c78a8"/>
<circle cx="653.16" cy="424.50" r="2.8" fill="#ff9da6"/>
<circle cx="653.16" cy="429.83" r="2.8" fill="#f58518"/>
<circle cx="653.16" cy="416.70" r="2.8" fill="#eeca3b"/>
<circle cx="653.16" cy="432.33" r="2.8" fill="#e45756"/>
<circle cx="653.16" cy="387.33" r="2.8" fill="#72b7b2"/>
<circle cx="653.16" cy="310.50" r="2.8" fill="#bab0ac"/>
<circle cx="653.16" cy="428.50" r="2.8" fill="#4c78a8"/>
<circle cx="653.16" cy="409.73" r="2.8" fill="#54a24b"/>
<circle cx="668.94" cy="418.17" r="2.8" fill="#4c78a8"/>
<circle cx="668.94" cy="424.50" r="2.8" fill="#ff9da6"/>
<circle cx="668.94" cy="419.83" r="2.8" fill="#f58518"/>
<circle cx="668.94" cy="416.70" r="2.8" fill="#eeca3b"/>
<circle cx="668.94" cy="432.33" r="2.8" fill="#e45756"/>
<circle cx="668.94" cy="388.00" r="2.8" fill="#72b7b2"/>
<circle cx="668.94" cy="299.27" r="2.8" fill="#bab0ac"/>
<circle cx="668.94" cy="428.50" r="2.8" fill="#4c78a8"/>
<circle cx="668.94" cy="409.03" r="2.8" fill="#54a24b"/>
<circle cx="684.73" cy="418.17" r="2.8" fill="#4c78a8"/>
<circle cx="684.73" cy="424.50" r="2.8" fill="#ff9da6"/>
<circle cx="684.73" cy="430.50" r="2.8" fill="#f58518"/>
<circle cx="684.73" cy="416.70" r="2.8" fill="#eeca3b"/>
<circle cx="684.73" cy="432.67" r="2.8" fill="#e45756"/>
<circle cx="684.73" cy="388.00" r="2.8" fill="#72b7b2"/>
<circle cx="684.73" cy="310.17" r="2.8" fill="#bab0ac"/>
<circle cx="684.73" cy="428.50" r="2.8" fill="#4c78a8"/>
<circle cx="684.73" cy="409.03" r="2.8" fill="#54a24b"/>
<circle cx="700.52" cy="418.17" r="2.8" fill="#4c78a8"/>
<circle cx="700.52" cy="423.93" r="2.8" fill="#ff9da6"/>
<circle cx="700.52" cy="430.50" r="2.8" fill="#f58518"/>
<circle cx="700.52" cy="416.70" r="2.8" fill="#eeca3b"/>
<circle cx="700.52" cy="432.67" r="2.8" fill="#e45756"/>
<circle cx="700.52" cy="387.83" r="2.8" fill="#72b7b2"/>
<circle cx="700.52" cy="308.30" r="2.8" fill="#bab0ac"/>
<circle cx="700.52" cy="428.50" r="2.8" fill="#4c78a8"/>
<circle cx="700.52" cy="409.03" r="2.8" fill="#54a24b"/>
<circle cx="716.30" cy="418.17" r="2.8" fill="#4c78a8"/>
<circle cx="716.30" cy="423.67" r="2.8" fill="#ff9da6"/>
<circle cx="716.30" cy="430.50" r="2.8" fill="#f58518"/>
<circle cx="716.30" cy="416.70" r="2.8" fill="#eeca3b"/>
<circle cx="716.30" cy="432.67" r="2.8" fill="#e45756"/>
<circle cx="716.30" cy="387.83" r="2.8" fill="#72b7b2"/>
<circle cx="716.30" cy="307.83" r="2.8" fill="#bab0ac"/>
<circle cx="716.30" cy="428.50" r="2.8" fill="#4c78a8"/>
<circle cx="716.30" cy="409.03" r="2.8" fill="#54a24b"/>
<circle cx="732.09" cy="418.17" r="2.8" fill="#4c78a8"/>
<circle cx="732.09" cy="424.50" r="2.8" fill="#ff9da6"/>
<circle cx="732.09" cy="430.50" r="2.8" fill="#f58518"/>
<circle cx="732.09" cy="416.70" r="2.8" fill="#eeca3b"/>
<circle cx="732.09" cy="432.67" r="2.8" fill="#e45756"/>
<circle cx="732.09" cy="387.83" r="2.8" fill="#72b7b2"/>
<circle cx="732.09" cy="309.17" r="2.8" fill="#bab0ac"/>
<circle cx="732.09" cy="428.50" r="2.8" fill="#4c78a8"/>
<circle cx="732.09" cy="409.03" r="2.8" fill="#54a24b"/>
<circle cx="747.88" cy="418.17" r="2.8" fill="#4c78a8"/>
<circle cx="747.88" cy="424.83" r="2.8" fill="#ff9da6"/>
<circle cx="747.88" cy="430.50" r="2.8" fill="#f58518"/>
<circle cx="747.88" cy="416.70" r="2.8" fill="#eeca3b"/>
<circle cx="747.88" cy="432.67" r="2.8" fill="#e45756"/>
<circle cx="747.88" cy="387.83" r="2.8" fill="#72b7b2"/>
<circle cx="747.88" cy="309.73" r="2.8" fill="#bab0ac"/>
<circle cx="747.88" cy="428.50" r="2.8" fill="#4c78a8"/>
<circle cx="747.88" cy="409.03" r="2.8" fill="#54a24b"/>
<circle cx="763.67" cy="418.17" r="2.8" fill="#4c78a8"/>
<circle cx="763.67" cy="424.50" r="2.8" fill="#ff9da6"/>
<circle cx="763.67" cy="430.50" r="2.8" fill="#f58518"/>
<circle cx="763.67" cy="416.70" r="2.8" fill="#eeca3b"/>
<circle cx="763.67" cy="432.67" r="2.8" fill="#e45756"/>
<circle cx="763.67" cy="387.83" r="2.8" fill="#72b7b2"/>
<circle cx="763.67" cy="309.17" r="2.8" fill="#bab0ac"/>
<circle cx="763.67" cy="428.50" r="2.8" fill="#4c78a8"/>
<circle cx="763.67" cy="409.03" r="2.8" fill="#54a24b"/>
<circle cx="779.45" cy="416.83" r="2.8" fill="#4c78a8"/>
<circle cx="779.45" cy="424.20" r="2.8" fill="#ff9da6"/>
<circle cx="779.45" cy="430.50" r="2.8" fill="#f58518"/>
<circle cx="779.45" cy="415.50" r="2.8" fill="#eeca3b"/>
<circle cx="779.45" cy="432.67" r="2.8" fill="#e45756"/>
<circle cx="779.45" cy="387.83" r="2.8" fill="#72b7b2"/>
<circle cx="779.45" cy="307.40" r="2.8" fill="#bab0ac"/>
<circle cx="779.45" cy="428.50" r="2.8" fill="#4c78a8"/>
<circle cx="779.45" cy="409.00" r="2.8" fill="#54a24b"/>
<circle cx="795.24" cy="416.63" r="2.8" fill="#4c78a8"/>
<circle cx="795.24" cy="424.20" r="2.8" fill="#ff9da6"/>
<circle cx="795.24" cy="430.50" r="2.8" fill="#f58518"/>
<circle cx="795.24" cy="415.17" r="2.8" fill="#eeca3b"/>
<circle cx="795.24" cy="432.67" r="2.8" fill="#e45756"/>
<circle cx="795.24" cy="387.83" r="2.8" fill="#72b7b2"/>
<circle cx="795.24" cy="306.33" r="2.8" fill="#bab0ac"/>
<circle cx="795.24" cy="428.50" r="2.8" fill="#4c78a8"/>
<circle cx="795.24" cy="408.83" r="2.8" fill="#54a24b"/>
<circle cx="811.03" cy="432.17" r="2.8" fill="#4c78a8"/>
<circle cx="811.03" cy="430.83" r="2.8" fill="#ff9da6"/>
<circle cx="811.03" cy="434.50" r="2.8" fill="#f58518"/>
<circle cx="811.03" cy="421.23" r="2.8" fill="#eeca3b"/>
<circle cx="811.03" cy="432.83" r="2.8" fill="#e45756"/>
<circle cx="811.03" cy="408.83" r="2.8" fill="#72b7b2"/>
<circle cx="811.03" cy="362.50" r="2.8" fill="#bab0ac"/>
<circle cx="811.03" cy="428.07" r="2.8" fill="#4c78a8"/>
<circle cx="811.03" cy="408.70" r="2.8" fill="#54a24b"/>
<circle cx="826.81" cy="434.50" r="2.8" fill="#4c78a8"/>
<circle cx="826.81" cy="434.50" r="2.8" fill="#ff9da6"/>
<circle cx="826.81" cy="434.50" r="2.8" fill="#f58518"/>
<circle cx="826.81" cy="434.50" r="2.8" fill="#eeca3b"/>
<circle cx="826.81" cy="434.50" r="2.8" fill="#e45756"/>
<circle cx="826.81" cy="434.50" r="2.8" fill="#72b7b2"/>
<circle cx="826.81" cy="434.50" r="2.8" fill="#bab0ac"/>
<circle cx="826.81" cy="434.50" r="2.8" fill="#4c78a8"/>
<circle cx="826.81" cy="434.17" r="2.8" fill="#54a24b"/>
<circle cx="842.60" cy="434.50" r="2.8" fill="#4c78a8"/>
<circle cx="842.60" cy="431.83" r="2.8" fill="#ff9da6"/>
<circle cx="842.60" cy="428.83" r="2.8" fill="#f58518"/>
<circle cx="842.60" cy="414.17" r="2.8" fill="#eeca3b"/>
<circle cx="842.60" cy="432.83" r="2.8" fill="#e45756"/>
<circle cx="842.60" cy="387.33" r="2.8" fill="#72b7b2"/>
<circle cx="842.60" cy="330.17" r="2.8" fill="#bab0ac"/>
<circle cx="842.60" cy="428.07" r="2.8" fill="#4c78a8"/>
<circle cx="842.60" cy="408.83" r="2.8" fill="#54a24b"/>
<circle cx="858.39" cy="416.83" r="2.8" fill="#4c78a8"/>
<circle cx="858.39" cy="424.50" r="2.8" fill="#ff9da6"/>
<circle cx="858.39" cy="420.83" r="2.8" fill="#f58518"/>
<circle cx="858.39" cy="415.73" r="2.8" fill="#eeca3b"/>
<circle cx="858.39" cy="432.63" r="2.8" fill="#e45756"/>
<circle cx="858.39" cy="387.33" r="2.8" fill="#72b7b2"/>
<circle cx="858.39" cy="297.50" r="2.8" fill="#bab0ac"/>
<circle cx="858.39" cy="428.17" r="2.8" fill="#4c78a8"/>
<circle cx="858.39" cy="409.17" r="2.8" fill="#54a24b"/>
<circle cx="874.17" cy="417.17" r="2.8" fill="#4c78a8"/>
<circle cx="874.17" cy="423.93" r="2.8" fill="#ff9da6"/>
<circle cx="874.17" cy="430.83" r="2.8" fill="#f58518"/>
<circle cx="874.17" cy="415.73" r="2.8" fill="#eeca3b"/>
<circle cx="874.17" cy="432.63" r="2.8" fill="#e45756"/>
<circle cx="874.17" cy="387.33" r="2.8" fill="#72b7b2"/>
<circle cx="874.17" cy="308.17" r="2.8" fill="#bab0ac"/>
<circle cx="874.17" cy="428.50" r="2.8" fill="#4c78a8"/>
<circle cx="874.17" cy="409.67" r="2.8" fill="#54a24b"/>
<circle cx="889.96" cy="434.50" r="2.8" fill="#4c78a8"/>
<circle cx="889.96" cy="434.50" r="2.8" fill="#ff9da6"/>
<circle cx="889.96" cy="434.50" r="2.8" fill="#f58518"/>
<circle cx="889.96" cy="429.83" r="2.8" fill="#eeca3b"/>
<circle cx="889.96" cy="434.50" r="2.8" fill="#e45756"/>
<circle cx="889.96" cy="423.50" r="2.8" fill="#72b7b2"/>
<circle cx="889.96" cy="420.17" r="2.8" fill="#bab0ac"/>
<circle cx="889.96" cy="434.50" r="2.8" fill="#4c78a8"/>
<circle cx="889.96" cy="434.17" r="2.8" fill="#54a24b"/>
<circle cx="905.75" cy="417.57" r="2.8" fill="#4c78a8"/>
<circle cx="905.75" cy="423.93" r="2.8" fill="#ff9da6"/>
<circle cx="905.75" cy="419.83" r="2.8" fill="#f58518"/>
<circle cx="905.75" cy="415.17" r="2.8" fill="#eeca3b"/>
<circle cx="905.75" cy="432.63" r="2.8" fill="#e45756"/>
<circle cx="905.75" cy="387.70" r="2.8" fill="#72b7b2"/>
<circle cx="905.75" cy="297.63" r="2.8" fill="#bab0ac"/>
<circle cx="905.75" cy="428.50" r="2.8" fill="#4c78a8"/>
<circle cx="905.75" cy="409.67" r="2.8" fill="#54a24b"/>
<circle cx="921.54" cy="433.83" r="2.8" fill="#4c78a8"/>
<circle cx="921.54" cy="431.17" r="2.8" fill="#ff9da6"/>
<circle cx="921.54" cy="433.50" r="2.8" fill="#f58518"/>
<circle cx="921.54" cy="427.17" r="2.8" fill="#eeca3b"/>
<circle cx="921.54" cy="433.50" r="2.8" fill="#e45756"/>
<circle cx="921.54" cy="413.00" r="2.8" fill="#72b7b2"/>
<circle cx="921.54" cy="380.30" r="2.8" fill="#bab0ac"/>
<circle cx="921.54" cy="433.83" r="2.8" fill="#4c78a8"/>
<circle cx="921.54" cy="409.67" r="2.8" fill="#54a24b"/>
<circle cx="937.32" cy="417.57" r="2.8" fill="#4c78a8"/>
<circle cx="937.32" cy="424.20" r="2.8" fill="#ff9da6"/>
<circle cx="937.32" cy="430.97" r="2.8" fill="#f58518"/>
<circle cx="937.32" cy="415.17" r="2.8" fill="#eeca3b"/>
<circle cx="937.32" cy="432.83" r="2.8" fill="#e45756"/>
<circle cx="937.32" cy="387.83" r="2.8" fill="#72b7b2"/>
<circle cx="937.32" cy="307.60" r="2.8" fill="#bab0ac"/>
<circle cx="937.32" cy="428.83" r="2.8" fill="#4c78a8"/>
<circle cx="937.32" cy="409.67" r="2.8" fill="#54a24b"/>
<circle cx="953.50" cy="434.00" r="2.8" fill="#4c78a8"/>
<circle cx="953.50" cy="428.17" r="2.8" fill="#ff9da6"/>
<circle cx="953.50" cy="430.33" r="2.8" fill="#f58518"/>
<circle cx="953.50" cy="415.17" r="2.8" fill="#eeca3b"/>
<circle cx="953.50" cy="432.63" r="2.8" fill="#e45756"/>
<circle cx="953.50" cy="392.83" r="2.8" fill="#72b7b2"/>
<circle cx="953.50" cy="334.67" r="2.8" fill="#bab0ac"/>
<circle cx="953.50" cy="428.50" r="2.8" fill="#4c78a8"/>
<circle cx="953.50" cy="409.67" r="2.8" fill="#54a24b"/>
<g font-family="'Liberation Sans', Arial, Helvetica, sans-serif" font-size="10" fill="#000">
<circle cx="979" cy="55.9" r="5.8" fill="#4c78a8"/>
<text x="989" y="58.8">alcanzatumeta</text>
<circle cx="979" cy="71.9" r="5.8" fill="#f58518"/>
<text x="989" y="74.8">chiplevante</text>
<circle cx="979" cy="87.9" r="5.8" fill="#e45756"/>
<text x="989" y="90.8">circuitonacionalrunning</text>
<circle cx="979" cy="103.9" r="5.8" fill="#72b7b2"/>
<text x="989" y="106.8">clubrunning</text>
<circle cx="979" cy="119.9" r="5.8" fill="#54a24b"/>
<text x="989" y="122.8">cronorunner</text>
<circle cx="979" cy="135.9" r="5.8" fill="#eeca3b"/>
<text x="989" y="138.8">cruzandolameta</text>
<circle cx="979" cy="151.9" r="5.8" fill="#b279a2"/>
<text x="989" y="154.8">dorsal21</text>
<circle cx="979" cy="167.9" r="5.8" fill="#ff9da6"/>
<text x="989" y="170.8">lineadesalida</text>
<circle cx="979" cy="183.9" r="5.8" fill="#9d755d"/>
<text x="989" y="186.8">mediasmaratones</text>
<circle cx="979" cy="199.9" r="5.8" fill="#bab0ac"/>
<text x="989" y="202.8">total</text>
<circle cx="979" cy="215.9" r="5.8" fill="#4c78a8"/>
<text x="989" y="218.8">valenciaciudaddelrunning</text>
</g>
</svg>
</body></html>
